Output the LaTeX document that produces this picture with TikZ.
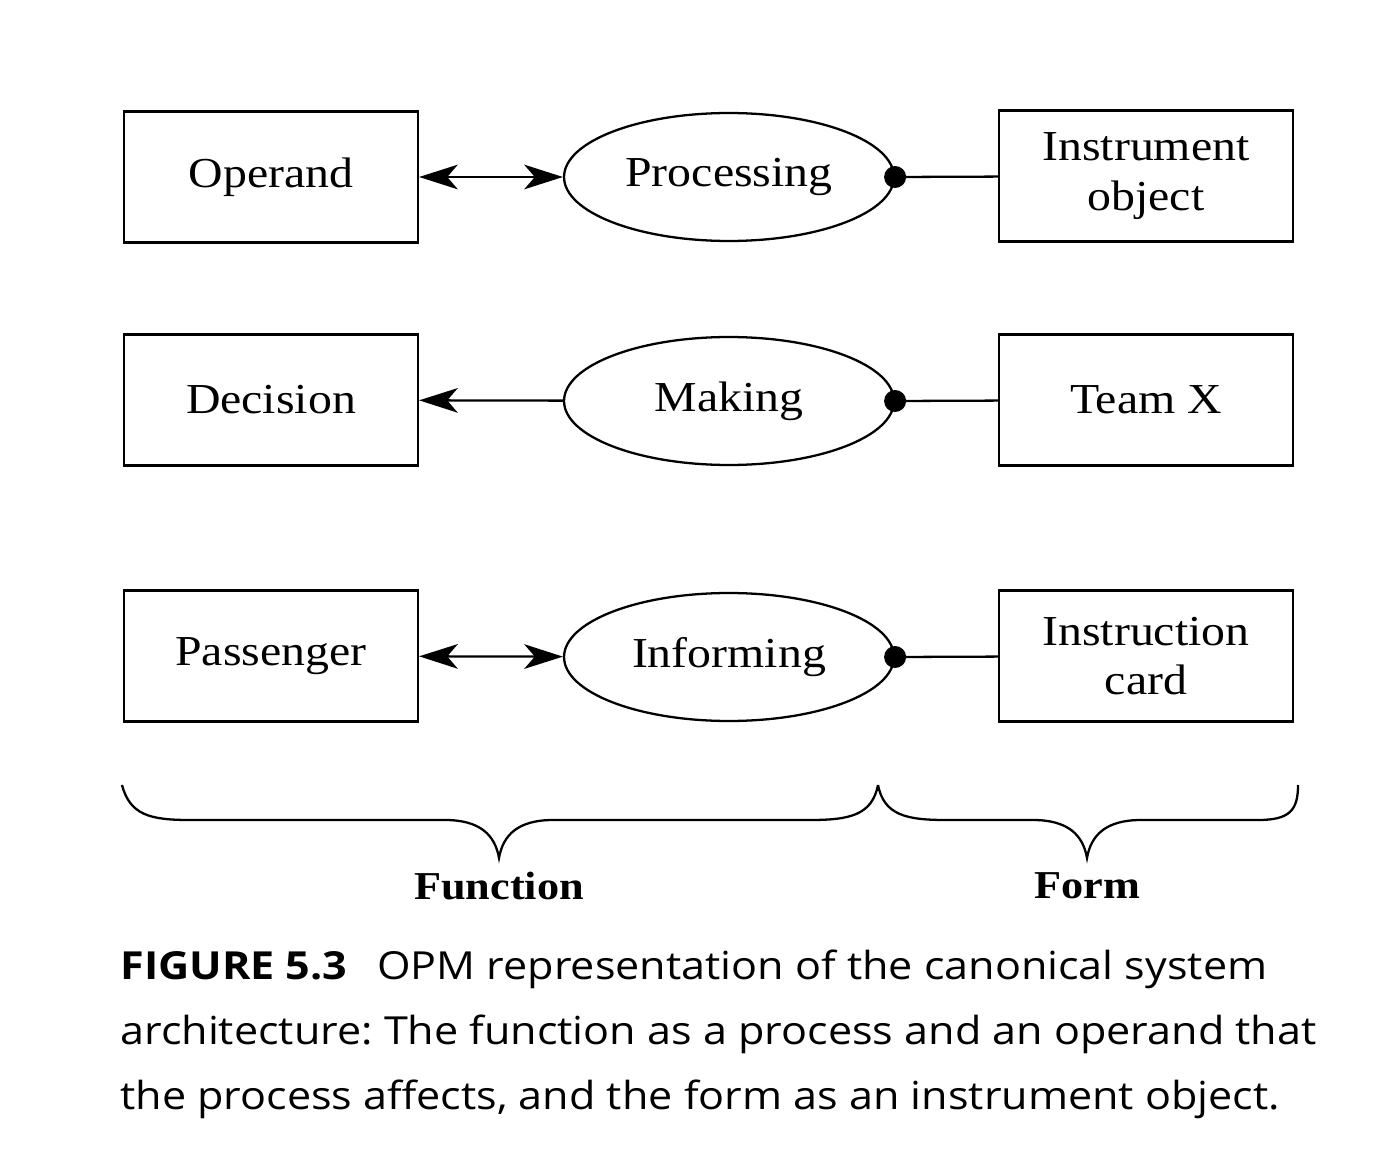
\documentclass[tikz,border=0pt]{standalone}
\usepackage{fontspec}
\setmainfont{Liberation Serif}[FakeStretch=1.12]
\newfontfamily\capfont{Open Sans}[FakeStretch=1.115]
\usetikzlibrary{arrows.meta,shapes.geometric}
\frenchspacing

\begin{document}
\begin{tikzpicture}[x=0.02cm, y=-0.02cm,
    obj/.style={draw, line width=1.3pt, minimum width=5.88cm, minimum height=2.62cm,
      inner sep=0pt, align=center, font=\fontsize{24.3}{28}\selectfont},
    proc/.style={draw, ellipse, line width=1.3pt, minimum width=6.6cm, minimum height=2.56cm,
      inner sep=0pt, font=\fontsize{24.3}{28}\selectfont},
    link/.style={line width=1.3pt},
    tip/.style={-{Stealth[length=22pt, width=14pt, inset=6pt]}},
    both/.style={{Stealth[length=22pt, width=14pt, inset=6pt]}-{Stealth[length=22pt, width=14pt, inset=6pt]}},
    dot/.style={fill=black, circle, inner sep=0pt, minimum size=0.44cm}]
  \useasboundingbox (0,0) rectangle (1400,1159);

  % row 1
  \node[obj]  (operand)    at (271,177)  {Operand};
  \node[proc] (processing) at (729,177)  {Processing};
  \node[obj]  (instrument) at (1146,176) {Instrument\\object};
  % row 2
  \node[obj]  (decision)   at (271,400)  {Decision};
  \node[proc] (making)     at (729,401)  {Making};
  \node[obj]  (team)       at (1146,400) {Team X};
  % row 3
  \node[obj]  (passenger)  at (271,656)  {Passenger};
  \node[proc] (informing)  at (729,657)  {Informing};
  \node[obj]  (card)       at (1146,656) {Instruction\\card};

  \draw[link, both] (operand) -- (processing);
  \draw[link, tip]  (making) -- (decision);
  \draw[link, both] (passenger) -- (informing);

  \node[dot] (d1) at (processing.east) {};
  \node[dot] (d2) at (making.east) {};
  \node[dot] (d3) at (informing.east) {};
  \draw[link] (d1.center) -- (instrument);
  \draw[link] (d2.center) -- (team);
  \draw[link] (d3.center) -- (card);

  % braces
  \draw[link] (122,785) .. controls (130,815) and (150,820) .. (190,820) -- (445,820)
    .. controls (480,820) and (495,835) .. (499,858)
    .. controls (503,835) and (518,820) .. (553,820) -- (810,820)
    .. controls (850,820) and (872,815) .. (878,785);
  \draw[link] (878,785) .. controls (884,815) and (906,820) .. (946,820) -- (1033,820)
    .. controls (1068,820) and (1083,835) .. (1087,858)
    .. controls (1091,835) and (1106,820) .. (1141,820) -- (1258,820)
    .. controls (1290,820) and (1298,810) .. (1298,785);

  \node[font=\bfseries\fontsize{22.5}{28}\selectfont] (function) at (499,886) {Function};
  \node[font=\bfseries\fontsize{22.5}{28}\selectfont] (form) at (1087,886) {Form};

  \node[anchor=north west, inner sep=0pt, align=left,
    font=\capfont\fontsize{22}{36.9}\selectfont] (caption) at (120,950)
    {\textbf{FIGURE 5.3}\hspace{17pt}OPM representation of the canonical system\\
     architecture: The function as a process and an operand that\\
     the process affects, and the form as an instrument object.};
\end{tikzpicture}
\end{document}
